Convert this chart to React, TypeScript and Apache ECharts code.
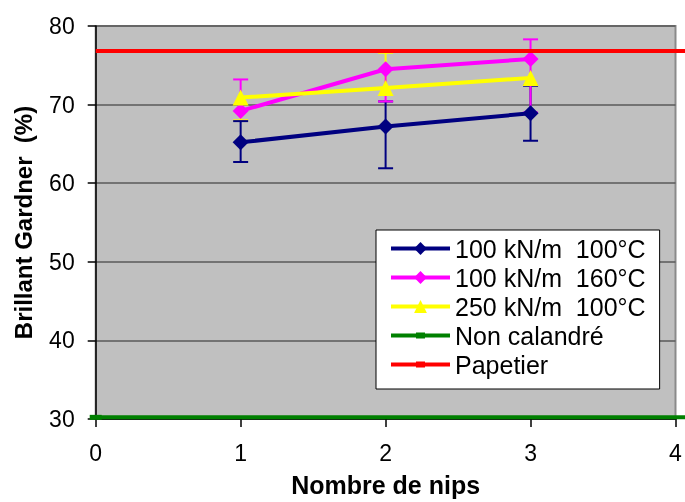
import React, { useEffect, useRef } from "react";
import * as echarts from "echarts";

// ---- data ----
const nips = [1, 2, 3];
const xTicks = [0, 1, 2, 3, 4];
const yTicks = [30, 40, 50, 60, 70, 80];

const s1Name = "100 kN/m  100°C";
const s1Values = [65.2, 67.2, 68.9];
const s1Low = [62.7, 61.9, 65.4];
const s1High = [67.9, 70.4, 72.4];

const s2Name = "100 kN/m  160°C";
const s2Values = [69.2, 74.5, 75.8];
const s2Low: (number | null)[] = [null, 70.4, 69.0];
const s2High: (number | null)[] = [73.2, null, 78.3];

const s3Name = "250 kN/m  100°C";
const s3Values = [70.9, 72.1, 73.4];
const s3Low: (number | null)[] = [68.0, null, null];
const s3High: (number | null)[] = [null, 76.6, null];

const refName1 = "Non calandré";
const refValue1 = 30.65;
const refName2 = "Papetier";
const refValue2 = 76.85;
// reference lines run from x = 0 past the right edge of the plot area (to the figure edge)
const refXs = [0, 4.0655];

const FONT = "'Liberation Sans', Arial, sans-serif";

function errorSeries(
  name: string,
  color: string,
  vals: number[],
  lows: (number | null)[],
  highs: (number | null)[],
  z: number
) {
  const data = nips.map((x, i) => [
    x,
    vals[i],
    lows[i] == null ? vals[i] : (lows[i] as number),
    highs[i] == null ? vals[i] : (highs[i] as number),
    lows[i] == null ? 0 : 1,
    highs[i] == null ? 0 : 1,
  ]);
  return {
    type: "custom",
    name,
    z,
    silent: true,
    clip: false,
    data,
    encode: { x: 0, y: [1, 2, 3] },
    renderItem: (params: any, api: any) => {
      const x = api.value(0);
      const c = api.coord([x, api.value(1)]);
      const lo = api.coord([x, api.value(2)]);
      const hi = api.coord([x, api.value(3)]);
      const hasLo = api.value(4) === 1;
      const hasHi = api.value(5) === 1;
      const hw = 7.5;
      const st = { stroke: color, lineWidth: 2 };
      const children: any[] = [];
      if (hasLo) {
        children.push({ type: "line", shape: { x1: c[0], y1: c[1], x2: lo[0], y2: lo[1] }, style: st });
        children.push({ type: "line", shape: { x1: lo[0] - hw, y1: lo[1], x2: lo[0] + hw, y2: lo[1] }, style: st });
      }
      if (hasHi) {
        children.push({ type: "line", shape: { x1: c[0], y1: c[1], x2: hi[0], y2: hi[1] }, style: st });
        children.push({ type: "line", shape: { x1: hi[0] - hw, y1: hi[1], x2: hi[0] + hw, y2: hi[1] }, style: st });
      }
      return { type: "group", children };
    },
  };
}

function dataSeries(name: string, color: string, vals: number[], symbol: string, z: number) {
  return {
    type: "line",
    name,
    z,
    data: nips.map((x, i) => [x, vals[i]]),
    symbol,
    symbolSize: 16,
    lineStyle: { color, width: 4 },
    itemStyle: { color },
    clip: false,
  };
}

function refSeries(name: string, color: string, value: number, z: number, startMarker: boolean) {
  return {
    type: "line",
    name,
    z,
    xAxisIndex: 1,
    yAxisIndex: 1,
    data: refXs.map((x, i) =>
      i === 0 && startMarker ? { value: [x, value] } : { value: [x, value], symbol: "none" }
    ),
    symbol: "rect",
    symbolSize: [12, 5],
    lineStyle: { color, width: 4 },
    itemStyle: { color },
    clip: false,
  };
}

const dashIcon = "path://M0,1H59V5H0Z M25,0H34V6H25Z";

export default function App() {
  const ref = useRef<HTMLDivElement>(null);
  useEffect(() => {
    if (!ref.current) return;
    const chart = echarts.init(ref.current, null, { renderer: "svg" });
    chart.setOption({
      animation: false,
      textStyle: { fontFamily: FONT },
      grid: [
        {
          left: 95.7,
          right: 9.5,
          top: 26,
          bottom: 79.5,
          show: true,
          backgroundColor: "#C0C0C0",
          borderColor: "#8a8a8a",
          borderWidth: 2,
        },
        { left: 95.7, right: 0, top: 26, bottom: 79.5, show: false },
      ],
      legend: {
        left: 376,
        top: 230,
        orient: "vertical",
        backgroundColor: "#ffffff",
        borderColor: "#000000",
        borderWidth: 1,
        borderRadius: 0,
        padding: [6, 14, 12, 13],
        itemWidth: 59,
        itemHeight: 16,
        itemGap: 4,
        itemTextGap: 6,
        selectedMode: false,
        lineStyle: { width: 4 },
        textStyle: { fontFamily: FONT, fontSize: 25, color: "#000", lineHeight: 25 },
        data: [
          { name: s1Name },
          { name: s2Name },
          { name: s3Name },
          { name: refName1, icon: dashIcon },
          { name: refName2, icon: dashIcon },
        ],
      },
      xAxis: [
        {
          type: "value",
          gridIndex: 0,
          min: xTicks[0],
          max: xTicks[xTicks.length - 1],
          interval: 1,
          name: "Nombre de nips",
          nameLocation: "middle",
          nameGap: 53,
          nameTextStyle: { fontFamily: FONT, fontSize: 25, fontWeight: "bold", color: "#000" },
          axisLine: { show: true, onZero: false, lineStyle: { color: "#000", width: 1.5 } },
          axisTick: { show: true, length: 8, lineStyle: { color: "#000", width: 1.5 } },
          axisLabel: { fontFamily: FONT, fontSize: 23, color: "#000", margin: 22 },
          splitLine: { show: false },
        },
        {
          type: "value",
          gridIndex: 1,
          min: refXs[0],
          max: refXs[1],
          show: false,
        },
      ],
      yAxis: [
        {
          type: "value",
          gridIndex: 0,
          min: yTicks[0],
          max: yTicks[yTicks.length - 1],
          interval: 10,
          name: "Brillant Gardner  (%)",
          nameLocation: "middle",
          nameGap: 60,
          nameTextStyle: { fontFamily: FONT, fontSize: 24, fontWeight: "bold", color: "#000" },
          axisLine: { show: true, lineStyle: { color: "#000", width: 1.5 } },
          axisTick: { show: true, length: 8, lineStyle: { color: "#000", width: 1.5 } },
          axisLabel: { fontFamily: FONT, fontSize: 23, color: "#000", margin: 21 },
          splitLine: { show: true, lineStyle: { color: "#5a5a5a", width: 1.5 } },
        },
        {
          type: "value",
          gridIndex: 1,
          min: yTicks[0],
          max: yTicks[yTicks.length - 1],
          show: false,
        },
      ],
      series: [
        errorSeries("err3", "#FFFF00", s3Values, s3Low, s3High, 2),
        errorSeries("err1", "#000080", s1Values, s1Low, s1High, 3),
        errorSeries("err2", "#FF00FF", s2Values, s2Low, s2High, 4),
        dataSeries(s1Name, "#000080", s1Values, "diamond", 5),
        dataSeries(s2Name, "#FF00FF", s2Values, "diamond", 6),
        dataSeries(s3Name, "#FFFF00", s3Values, "triangle", 7),
        refSeries(refName1, "#008000", refValue1, 8, true),
        refSeries(refName2, "#FF0000", refValue2, 8, false),
      ],
    });
    return () => chart.dispose();
  }, []);
  return (
    <div
      ref={ref}
      style={{ position: "fixed", left: 0, top: 0, width: 685, height: 502 }}
    />
  );
}
